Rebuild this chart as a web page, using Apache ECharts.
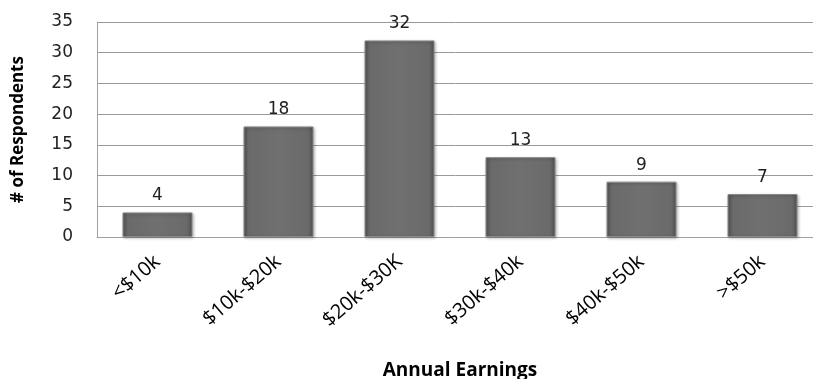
<!DOCTYPE html>
<html><head><meta charset="utf-8">
<script src="https://cdn.jsdelivr.net/npm/echarts@6/dist/echarts.min.js"></script>
<style>html,body{margin:0;padding:0;background:#fff}#c{width:813px;height:379px}</style>
</head><body><div id="c"></div>
<script>
const categories = ['<$10k', '$10k-$20k', '$20k-$30K', '$30k-$40k', '$40k-$50k', '>$50k'];
const respondents = [4, 18, 32, 13, 9, 7];
const yTicks = {min: 0, max: 35, interval: 5};

const chart = echarts.init(document.getElementById('c'));
chart.setOption({
  animation: false,
  grid: {left: 97, right: -10, top: 22, bottom: 142, containLabel: false, outerBoundsMode: 'none'},
  xAxis: {
    type: 'category', data: categories,
    name: 'Annual Earnings', nameLocation: 'middle', nameGap: 124,
    nameTextStyle: {fontFamily: 'Open Sans', fontWeight: 'bold', fontSize: 19, color: '#000'},
    axisLine: {lineStyle: {color: '#a0a0a0'}},
    axisTick: {show: false},
    axisLabel: {rotate: 41, margin: 22, fontFamily: 'Open Sans', fontSize: 20, color: '#000', interval: 0}
  },
  yAxis: {
    type: 'value', min: yTicks.min, max: yTicks.max, interval: yTicks.interval,
    name: '# of Respondents', nameLocation: 'middle', nameGap: 70,
    nameTextStyle: {fontFamily: 'Open Sans', fontWeight: 'bold', fontSize: 17, color: '#000'},
    axisLine: {show: true, lineStyle: {color: '#a0a0a0'}},
    axisTick: {show: false},
    axisLabel: {fontFamily: 'DejaVu Sans', fontSize: 17, color: '#222', margin: 24},
    splitLine: {lineStyle: {color: '#9a9a9a'}}
  },
  series: [{
    type: 'bar', data: respondents, barWidth: 70,
    itemStyle: {
      color: new echarts.graphic.LinearGradient(0, 0, 1, 0, [
        {offset: 0, color: '#555'}, {offset: 0.08, color: '#6a6a6a'},
        {offset: 0.5, color: '#707070'}, {offset: 0.92, color: '#6a6a6a'}, {offset: 1, color: '#505050'}
      ]),
      borderColor: '#8a8a8a', borderWidth: 1,
      shadowColor: 'rgba(0,0,0,0.3)', shadowBlur: 3, shadowOffsetX: 1, shadowOffsetY: 1
    },
    label: {show: true, position: 'top', distance: 8, fontFamily: 'DejaVu Sans', fontSize: 17, color: '#222'}
  }]
});
</script></body></html>
